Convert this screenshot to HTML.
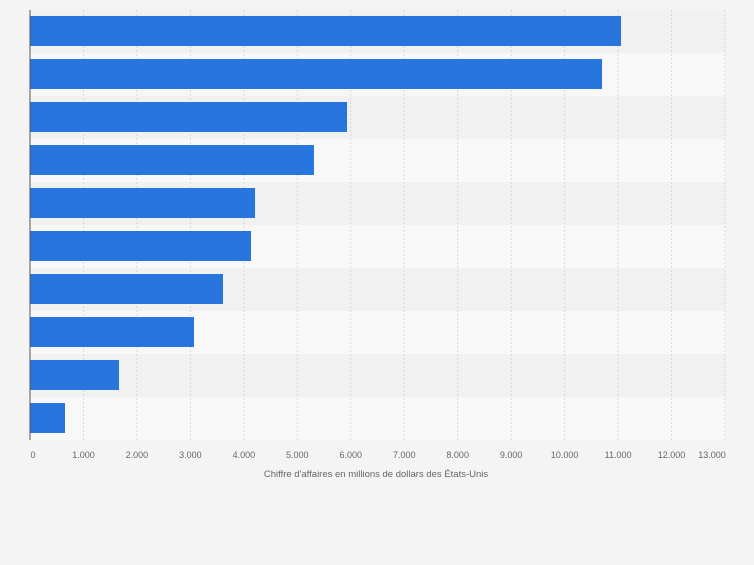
<!DOCTYPE html>
<html><head><meta charset="utf-8"><style>
body{margin:0;background:#f4f4f4;font-family:"Liberation Sans",sans-serif}
</style></head><body>
<svg width="754" height="560" xmlns="http://www.w3.org/2000/svg">
<rect width="754" height="560" fill="#f4f4f4"/>
<g id="bands"></g><g id="grid"></g><g id="bars"></g><g id="ticks"></g>
<line x1="30" y1="10" x2="30" y2="440" stroke="#555" stroke-width="1"/>
<text x="376" y="477" font-size="9.5" fill="#666" text-anchor="middle">Chiffre d'affaires en millions de dollars des États-Unis</text>
</svg>
<script>
const categories=["c1","c2","c3","c4","c5","c6","c7","c8","c9","c10"];
const values=[11055,10700,5930,5312,4209,4134,3610,3068,1665,655];
const ticks=[0,1000,2000,3000,4000,5000,6000,7000,8000,9000,10000,11000,12000,13000];
const tickLabels=["0","1.000","2.000","3.000","4.000","5.000","6.000","7.000","8.000","9.000","10.000","11.000","12.000","13.000"];
const NS="http://www.w3.org/2000/svg";
const x=v=>30+v*(695/13000);
const top0=10,band=43;
function mk(t,a,p){const e=document.createElementNS(NS,t);for(const k in a)e.setAttribute(k,a[k]);document.getElementById(p).appendChild(e);return e;}
categories.forEach((c,i)=>{
 const b=mk('rect',{x:30,y:top0+i*band,width:695,height:band,fill:i%2?'#f8f8f8':'#f1f1f1'},'bands');
 
 
 const r=mk('rect',{x:30,y:top0+i*band+6,width:x(values[i])-30,height:30,fill:'#2876dd'},'bars');
 
 
});
ticks.forEach((t,i)=>{
 if(t>0){const g=mk('line',{x1:x(t),y1:top0,x2:x(t),y2:440,stroke:'#d8d8d8','stroke-dasharray':'2,2'},'grid');
 
 }
 const tx=mk('text',{x:i==0?33:(i==13?712:x(t)),y:458,'font-size':'9',fill:'#666','text-anchor':'middle'},'ticks');
 tx.textContent=tickLabels[i];
 
 
});
</script>
</body></html>
